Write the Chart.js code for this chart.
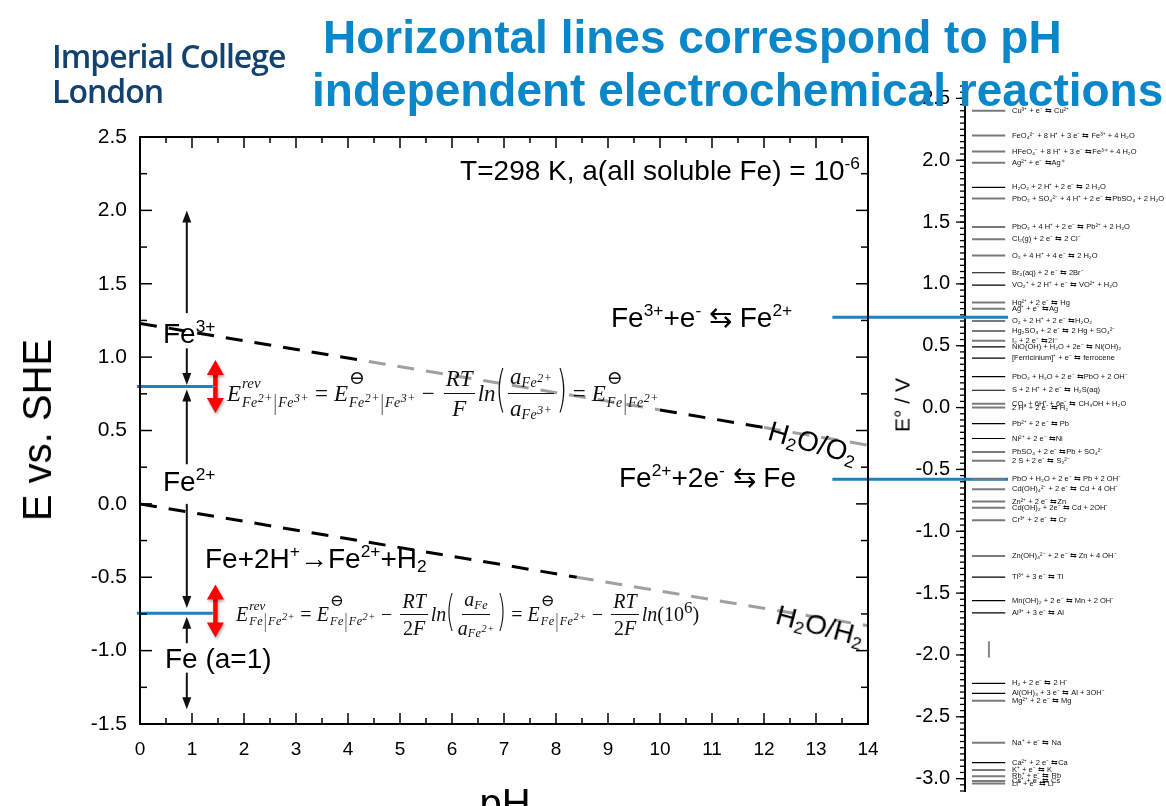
<!DOCTYPE html>
<html>
<head>
<meta charset="utf-8">
<script src="https://cdn.jsdelivr.net/npm/chart.js@4.4.1/dist/chart.umd.min.js"></script>
<style>
  html, body { margin: 0; padding: 0; background: #fff; width: 1166px; height: 806px; overflow: hidden; }
  body { position: relative; font-family: 'Liberation Sans', Arial, sans-serif; }
  canvas { position: absolute; left: 0; top: 0; }
  .t { position: absolute; white-space: nowrap; line-height: 1; color: #000; font-size: 28px; }
  .t sup { font-size: 0.62em; vertical-align: 0.62em; line-height: 0; }
  .t sub { font-size: 0.62em; vertical-align: -0.25em; line-height: 0; }
  .title { color: #0a87c9; font-weight: bold; font-size: 46px; }
  .logo { color: #12426f; font-family: 'Open Sans', 'Noto Sans', sans-serif; font-weight: 600; font-size: 32px; letter-spacing: -1px; }
  .eq { position: absolute; height: 60px; display: flex; align-items: center; font-family: 'Liberation Serif', 'DejaVu Serif', serif;
        font-style: italic; font-size: 23px; color: #111; white-space: nowrap; line-height: 1; }
  .eq.small { font-size: 20px; }
  .sc { display: inline-flex; flex-direction: column; justify-content: space-between; height: 1.3em; margin-left: 1px; }
  .sc .hi { font-size: 0.65em; line-height: 0.8; }
  .sc .hi.th { font-style: normal; font-size: 0.83em; margin-top: -0.4em; }
  .sc .lo { font-size: 0.61em; line-height: 0.8; letter-spacing: 0.5px; }
  .bar { font-style: normal; display: inline-block; transform: scaleY(1.7); margin: 0 1px; }
  .eq sup { font-size: 0.85em; vertical-align: 0.45em; line-height: 0; }
  .sb { font-size: 0.61em; vertical-align: -0.22em; letter-spacing: 0.5px; }
  .op { font-style: normal; margin: 0 0.26em; }
  .fr { display: inline-flex; flex-direction: column; align-items: center; margin: 0 3px; }
  .fr .nu { border-bottom: 1.3px solid #111; padding: 0 2px 3px; }
  .fr .de { padding-top: 3px; }
  .pa { font-style: normal; font-size: 2.17em; transform: scaleX(0.55); display: inline-block; margin: -0.12em -0.1em 0; font-family: 'DejaVu Sans', sans-serif; font-weight: 200; }
  .up { font-style: normal; }
</style>
</head>
<body>
<canvas id="series" width="1166" height="806"></canvas>
<canvas id="pourbaix" width="1166" height="806"></canvas>

<div class="t logo" style="left:52px; top:40px;">Imperial College</div>
<div class="t logo" style="left:52px; top:75px;">London</div>

<div class="t" style="left:163px; top:320px;">Fe<sup>3+</sup></div>
<div class="t" style="left:163px; top:468px;">Fe<sup>2+</sup></div>
<div class="t" style="left:205px; top:545px;">Fe+2H<sup>+</sup>→Fe<sup>2+</sup>+H<sub>2</sub></div>
<div class="t" style="left:165px; top:645px;">Fe (a=1)</div>
<div class="t" style="right:306px; top:157px;">T=298 K, a(all soluble Fe) = 10<sup>-6</sup></div>
<div class="t" style="left:611px; top:304px;">Fe<sup>3+</sup>+e<sup>-</sup> ⇆ Fe<sup>2+</sup></div>
<div class="t" style="left:619px; top:464px;">Fe<sup>2+</sup>+2e<sup>-</sup> ⇆ Fe</div>
<div class="t" style="left:765px; top:416px; transform: rotate(16deg); transform-origin: left bottom;">H<sub>2</sub>O/O<sub>2</sub></div>
<div class="t" style="left:773px; top:600px; transform: rotate(15deg); transform-origin: left bottom;">H<sub>2</sub>O/H<sub>2</sub></div>

<div class="t" style="left:37px; top:430px; font-size:40px; transform: translate(-50%, -50%) rotate(-90deg);">E vs. SHE</div>
<div class="t" style="left:505px; top:783px; font-size:40px; transform: translateX(-50%);">pH</div>
<div class="t" style="left:902px; top:405px; font-size:21px; transform: translate(-50%, -50%) rotate(-90deg);">E° / V</div>

<div class="eq" style="left:227px; top:363px;">
  <span>E</span><span class="sc"><span class="hi">rev</span><span class="lo">Fe<sup>2+</sup><span class="bar">|</span>Fe<sup>3+</sup></span></span>
  <span class="op">=</span>
  <span>E</span><span class="sc"><span class="hi th">⊖</span><span class="lo">Fe<sup>2+</sup><span class="bar">|</span>Fe<sup>3+</sup></span></span>
  <span class="op">−</span>
  <span class="fr"><span class="nu">RT</span><span class="de">F</span></span>
  <span>ln</span><span class="pa">(</span>
  <span class="fr"><span class="nu">a<span class="sb">Fe<sup>2+</sup></span></span><span class="de">a<span class="sb">Fe<sup>3+</sup></span></span></span>
  <span class="pa">)</span>
  <span class="op">=</span>
  <span>E</span><span class="sc"><span class="hi th">⊖</span><span class="lo">Fe<span class="bar">|</span>Fe<sup>2+</sup></span></span>
</div>

<div class="eq small" style="left:236px; top:584px;">
  <span>E</span><span class="sc"><span class="hi">rev</span><span class="lo">Fe<span class="bar">|</span>Fe<sup>2+</sup></span></span>
  <span class="op">=</span>
  <span>E</span><span class="sc"><span class="hi th">⊖</span><span class="lo">Fe<span class="bar">|</span>Fe<sup>2+</sup></span></span>
  <span class="op">−</span>
  <span class="fr"><span class="nu">RT</span><span class="de up">2<i>F</i></span></span>
  <span>ln</span><span class="pa">(</span>
  <span class="fr"><span class="nu">a<span class="sb">Fe</span></span><span class="de">a<span class="sb">Fe<sup>2+</sup></span></span></span>
  <span class="pa">)</span>
  <span class="op">=</span>
  <span>E</span><span class="sc"><span class="hi th">⊖</span><span class="lo">Fe<span class="bar">|</span>Fe<sup>2+</sup></span></span>
  <span class="op">−</span>
  <span class="fr"><span class="nu">RT</span><span class="de up">2<i>F</i></span></span>
  <span>ln</span><span class="up">(10<sup>6</sup>)</span>
</div>

<div class="t title" style="left:323px; top:14px;">Horizontal lines correspond to pH</div>
<div class="t title" style="left:312px; top:67px;">independent electrochemical reactions</div>

<script>
// ---- Pourbaix diagram (left) ----
const phTicks = [0, 1, 2, 3, 4, 5, 6, 7, 8, 9, 10, 11, 12, 13, 14];
const eTicks = [-1.5, -1.0, -0.5, 0.0, 0.5, 1.0, 1.5, 2.0, 2.5];

// water stability lines
const o2Ph = [0, 4.4, 10, 12, 14];
const o2E = [1.23, 0.97, 0.64, 0.52, 0.40];
const h2Ph = [0, 8.4, 14];
const h2E = [0.00, -0.50, -0.83];

// pH independent equilibria (blue)
const feLinePh = [-0.06, 1.4];
const fe32E = 0.80;
const fe20E = -0.745;

// black arrows at pH 0.9, red double arrows at pH 1.45
const arrowPh = 0.9;
const arrowFrom = [1.30, 1.06, 0.27, 0.00, -0.95, -1.15];
const arrowTo = [2.00, 0.81, 0.78, -0.71, -0.77, -1.40];
const redPh = 1.45;
const redTop = [0.98, -0.55];
const redBottom = [0.62, -0.91];

// ---- electrochemical series (right) ----
const seriesTicks = [-3.0, -2.5, -2.0, -1.5, -1.0, -0.5, 0.0, 0.5, 1.0, 1.5, 2.0, 2.5];
const reactions = [
  'Cu³⁺ + e⁻ ⇆ Cu²⁺',
  'FeO₄²⁻ + 8 H⁺ + 3 e⁻ ⇆ Fe³⁺ + 4 H₂O',
  'HFeO₄⁻ + 8 H⁺ + 3 e⁻ ⇆Fe³⁺ + 4 H₂O',
  'Ag²⁺ + e⁻ ⇆Ag⁺',
  'H₂O₂ + 2 H⁺ + 2 e⁻ ⇆ 2 H₂O',
  'PbO₂ + SO₄²⁻ + 4 H⁺ + 2 e⁻ ⇆PbSO₄ + 2 H₂O',
  'PbO₂ + 4 H⁺ + 2 e⁻ ⇆ Pb²⁺ + 2 H₂O',
  'Cl₂(g) + 2 e⁻ ⇆ 2 Cl⁻',
  'O₂ + 4 H⁺ + 4 e⁻ ⇆ 2 H₂O',
  'Br₂(aq) + 2 e⁻ ⇆ 2Br⁻',
  'VO₂⁺ + 2 H⁺ + e⁻ ⇆ VO²⁺ + H₂O',
  'Hg²⁺ + 2 e⁻ ⇆ Hg',
  'Ag⁺ + e⁻ ⇆Ag',
  'O₂ + 2 H⁺ + 2 e⁻ ⇆H₂O₂',
  'Hg₂SO₄ + 2 e⁻ ⇆ 2 Hg + SO₄²⁻',
  'I₂ + 2 e⁻ ⇆2I⁻',
  'NiO(OH) + H₂O + 2e⁻ ⇆ Ni(OH)₂',
  '[Ferricinium]⁺ + e⁻ ⇆ ferrocene',
  'PbO₂ + H₂O + 2 e⁻ ⇆PbO + 2 OH⁻',
  'S + 2 H⁺ + 2 e⁻ ⇆ H₂S(aq)',
  'CO₂ + 6H⁺ + 6e⁻ ⇆ CH₃OH + H₂O',
  '2 H⁺ + 2 e⁻ ⇆ H₂',
  'Pb²⁺ + 2 e⁻ ⇆ Pb',
  'Ni²⁺ + 2 e⁻ ⇆Ni',
  'PbSO₄ + 2 e⁻ ⇆Pb + SO₄²⁻',
  '2 S + 2 e⁻ ⇆ S₂²⁻',
  'PbO + H₂O + 2 e⁻ ⇆ Pb + 2 OH⁻',
  'Cd(OH)₄²⁻ + 2 e⁻ ⇆ Cd + 4 OH⁻',
  'Zn²⁺ + 2 e⁻ ⇆Zn',
  'Cd(OH)₂ + 2e⁻ ⇆ Cd + 2OH⁻',
  'Cr³⁺ + 2 e⁻ ⇆ Cr',
  'Zn(OH)₄²⁻ + 2 e⁻ ⇆ Zn + 4 OH⁻',
  'Tl³⁺ + 3 e⁻ ⇆ Tl',
  'Mn(OH)₂ + 2 e⁻ ⇆ Mn + 2 OH⁻',
  'Al³⁺ + 3 e⁻ ⇆ Al',
  'H₂ + 2 e⁻ ⇆ 2 H⁻',
  'Al(OH)₃ + 3 e⁻ ⇆ Al + 3OH⁻',
  'Mg²⁺ + 2 e⁻ ⇆ Mg',
  'Na⁺ + e⁻ ⇆ Na',
  'Ca²⁺ + 2 e⁻ ⇆Ca',
  'K⁺ + e⁻ ⇆ K',
  'Rb⁺ + e⁻ ⇆ Rb',
  'Cs⁺ + e⁻ ⇆ Cs',
  'Li⁺ + e⁻ ⇆ Li',
];
const potentials = [
  2.40, 2.20, 2.07, 1.98, 1.78, 1.69, 1.46, 1.36, 1.23, 1.09, 0.99, 0.85, 0.80, 0.70,
  0.62, 0.54, 0.49, 0.40, 0.25, 0.14, 0.03, 0.00, -0.13, -0.25, -0.36, -0.43, -0.58,
  -0.66, -0.76, -0.81, -0.91, -1.20, -1.37, -1.56, -1.66, -2.23, -2.31, -2.37, -2.71,
  -2.87, -2.93, -2.98, -3.02, -3.04,
];
// which reactions are drawn as the thicker grey lines
const greyLines = [0, 1, 2, 3, 5, 6, 7, 8, 11, 12, 13, 14, 15, 20, 21, 24, 25, 26, 27, 28, 29, 30, 31, 37, 38, 40, 41, 42, 43];
// the two standard potentials picked out in blue
const seriesBlueE = [0.73, -0.58];
const markE = [-1.89, -2.02];

const BLUE = '#1d80c3';
const font = 'Liberation Sans, Arial, sans-serif';

// ---------------------------------------------------------------
function arrow(ctx, x, y1, y2, shaft, headW, headL, color) {
  const dir = y2 < y1 ? -1 : 1;
  ctx.strokeStyle = color;
  ctx.fillStyle = color;
  ctx.lineWidth = shaft;
  ctx.beginPath();
  ctx.moveTo(x, y1);
  ctx.lineTo(x, y2 - dir * headL * 0.8);
  ctx.stroke();
  ctx.beginPath();
  ctx.moveTo(x, y2);
  ctx.lineTo(x - headW / 2, y2 - dir * headL);
  ctx.lineTo(x + headW / 2, y2 - dir * headL);
  ctx.closePath();
  ctx.fill();
}

const frameTicks = {
  id: 'frameTicks',
  afterDatasetsDraw(chart) {
    const { ctx, scales: { x, y } } = chart;
    ctx.save();
    arrowFrom.forEach((e, i) => {
      arrow(ctx, x.getPixelForValue(arrowPh), y.getPixelForValue(e), y.getPixelForValue(arrowTo[i]), 2, 9, 12, '#111');
    });
    ctx.shadowColor = 'rgba(0,0,0,0.35)';
    ctx.shadowBlur = 3;
    ctx.shadowOffsetX = 1;
    ctx.shadowOffsetY = 2;
    redTop.forEach((e, i) => {
      const px = x.getPixelForValue(redPh);
      const a = y.getPixelForValue(e), b = y.getPixelForValue(redBottom[i]);
      const mid = (a + b) / 2;
      arrow(ctx, px, mid, a, 4.5, 17, 15, '#ff0000');
      arrow(ctx, px, mid, b, 4.5, 17, 15, '#ff0000');
    });
    ctx.restore();
  },
  afterDraw(chart) {
    const { ctx, chartArea: a, scales: { x, y } } = chart;
    ctx.save();
    ctx.strokeStyle = '#000';
    ctx.lineWidth = 2;
    ctx.strokeRect(a.left, a.top, a.width, a.height);
    ctx.lineWidth = 1.5;
    const tick = (x1, y1, x2, y2) => { ctx.beginPath(); ctx.moveTo(x1, y1); ctx.lineTo(x2, y2); ctx.stroke(); };
    phTicks.forEach((v, i) => {
      const px = x.getPixelForValue(v);
      tick(px, a.bottom, px, a.bottom - 11);
      tick(px, a.top, px, a.top + 11);
      if (i < phTicks.length - 1) {
        const m = x.getPixelForValue((v + phTicks[i + 1]) / 2);
        tick(m, a.bottom, m, a.bottom - 6);
        tick(m, a.top, m, a.top + 6);
      }
    });
    eTicks.forEach((v, i) => {
      const py = y.getPixelForValue(v);
      tick(a.left, py, a.left + 12, py);
      tick(a.right, py, a.right - 12, py);
      if (i < eTicks.length - 1) {
        const m = y.getPixelForValue((v + eTicks[i + 1]) / 2);
        tick(a.left, m, a.left + 7, m);
        tick(a.right, m, a.right - 7, m);
      }
    });
    ctx.restore();
  }
};

const dashed = { borderWidth: 3, borderDash: [17, 12], pointRadius: 0, fill: false, tension: 0 };

new Chart(document.getElementById('pourbaix'), {
  type: 'line',
  data: {
    datasets: [
      {
        ...dashed,
        label: 'H2O/O2',
        data: o2Ph.map((p, i) => ({ x: p, y: o2E[i] })),
        borderColor: '#000',
        segment: { borderColor: c => (c.p0DataIndex % 2 === 1 ? '#a0a0a0' : '#000') },
      },
      {
        ...dashed,
        label: 'H2O/H2',
        data: h2Ph.map((p, i) => ({ x: p, y: h2E[i] })),
        borderColor: '#000',
        segment: { borderColor: c => (c.p0DataIndex === 1 ? '#a0a0a0' : '#000') },
      },
      {
        label: 'Fe3+/Fe2+',
        data: feLinePh.map(p => ({ x: p, y: fe32E })),
        borderColor: BLUE, borderWidth: 3, pointRadius: 0, clip: false,
      },
      {
        label: 'Fe2+/Fe',
        data: feLinePh.map(p => ({ x: p, y: fe20E })),
        borderColor: BLUE, borderWidth: 3, pointRadius: 0, clip: false,
      },
    ],
  },
  options: {
    responsive: false,
    animation: false,
    events: [],
    layout: { padding: { left: 80, right: 298, top: 137, bottom: 42 } },
    plugins: { legend: { display: false }, tooltip: { enabled: false } },
    scales: {
      x: {
        type: 'linear', min: 0, max: 14,
        afterBuildTicks: s => { s.ticks = phTicks.map(v => ({ value: v })); },
        afterFit: s => { s.height = 40; s.paddingLeft = 0; s.paddingRight = 0; },
        grid: { display: false, drawTicks: false },
        border: { display: false },
        ticks: { padding: 14, color: '#000', font: { family: font, size: 19 }, maxRotation: 0, autoSkip: false },
      },
      y: {
        type: 'linear', min: -1.5, max: 2.5,
        afterBuildTicks: s => { s.ticks = eTicks.map(v => ({ value: v })); },
        afterFit: s => { s.width = 60; s.paddingTop = 0; s.paddingBottom = 0; },
        grid: { display: false, drawTicks: false },
        border: { display: false },
        ticks: { padding: 13, color: '#000', font: { family: font, size: 21 }, autoSkip: false, callback: v => v.toFixed(1) },
      },
    },
  },
  plugins: [frameTicks],
});

// ---------------------------------------------------------------
const seriesDecor = {
  id: 'seriesDecor',
  afterDraw(chart) {
    const { ctx, chartArea: a, scales: { x, y } } = chart;
    ctx.save();
    ctx.strokeStyle = '#000';
    ctx.lineWidth = 1.3;
    const tick = (py, len) => { ctx.beginPath(); ctx.moveTo(a.left, py); ctx.lineTo(a.left - len, py); ctx.stroke(); };
    for (let v = -3.1; v <= 2.6001; v += 0.05) tick(y.getPixelForValue(v), 5);
    seriesTicks.forEach(v => tick(y.getPixelForValue(v), 9));
    ctx.fillStyle = '#111';
    ctx.font = '7.5px ' + font;
    ctx.textBaseline = 'middle';
    reactions.forEach((r, i) => {
      ctx.fillText(r, x.getPixelForValue(2.34), y.getPixelForValue(potentials[i]));
    });
    ctx.restore();
  }
};

const rxPoints = [];
potentials.forEach(v => {
  rxPoints.push({ x: 0.35, y: v }, { x: 2.0, y: v }, { x: 2.0, y: null });
});
const reactionStyle = c => greyLines.includes(Math.floor(c.p0DataIndex / 3));

new Chart(document.getElementById('series'), {
  type: 'line',
  data: {
    datasets: [
      {
        label: 'reactions',
        data: rxPoints,
        pointRadius: 0,
        spanGaps: false,
        borderColor: '#000',
        borderWidth: 1,
        segment: {
          borderColor: c => (reactionStyle(c) ? '#7a7a7a' : '#000'),
          borderWidth: c => (reactionStyle(c) ? 2 : 1.2),
        },
      },
      {
        label: 'mark',
        data: markE.map(v => ({ x: 1.19, y: v })),
        borderColor: '#888', borderWidth: 2, pointRadius: 0,
      },
      ...seriesBlueE.map(v => ({
        label: 'blue',
        data: [{ x: -6.6, y: v }, { x: 2.14, y: v }],
        borderColor: BLUE, borderWidth: 3, pointRadius: 0, clip: false,
      })),
    ],
  },
  options: {
    responsive: false,
    animation: false,
    events: [],
    layout: { padding: { left: 905, right: 0, top: 86, bottom: 15 } },
    plugins: { legend: { display: false }, tooltip: { enabled: false } },
    scales: {
      x: { type: 'linear', min: 0, max: 10, display: false },
      y: {
        type: 'linear', min: -3.1, max: 2.6,
        afterBuildTicks: s => { s.ticks = seriesTicks.map(v => ({ value: v })); },
        afterFit: s => { s.width = 60; s.paddingTop = 0; s.paddingBottom = 0; },
        grid: { display: false, drawTicks: false },
        border: { display: true, color: '#000', width: 2 },
        ticks: { padding: 15, color: '#000', font: { family: font, size: 20 }, autoSkip: false, callback: v => v.toFixed(1) },
      },
    },
  },
  plugins: [seriesDecor],
});
</script>
</body>
</html>
